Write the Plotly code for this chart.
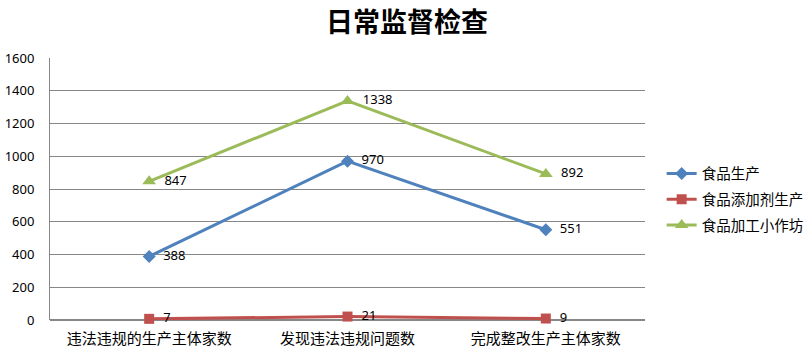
import plotly.graph_objects as go

categories = ["违法违规的生产主体家数", "发现违法违规问题数", "完成整改生产主体家数"]
food_production = [388, 970, 551]
food_additive = [7, 21, 9]
food_workshop = [847, 1338, 892]
y_ticks = [0, 200, 400, 600, 800, 1000, 1200, 1400, 1600]

series = [
    ("食品生产", food_production, "#4F81BD", "diamond", 10),
    ("食品添加剂生产", food_additive, "#C0504D", "square", 10),
    ("食品加工小作坊", food_workshop, "#9BBB59", "triangle-up", 12),
]

fig = go.Figure()
for i, (name, vals, color, sym, size) in enumerate(series):
    fig.add_trace(go.Scatter(
        x=categories, y=vals, name=name, mode="lines+markers+text",
        legendgroup=f"g{i}",
        line=dict(color=color, width=3),
        marker=dict(symbol=sym, size=size, color=color),
        text=["  " + str(v) for v in vals], textposition="middle right",
        textfont=dict(family="Noto Sans, Liberation Sans", size=13, color="#000"),
        cliponaxis=False,
    ))

fig.update_layout(
    width=809, height=357,
    margin=dict(l=50, r=164, t=58, b=37, autoexpand=False),
    paper_bgcolor="white", plot_bgcolor="white",
    title=dict(text="<b>日常监督检查</b>", x=407 / 809, xanchor="center", xref="container",
               y=1 - 23 / 357, yanchor="middle", yref="container", automargin=False,
               font=dict(family="Noto Sans CJK SC", size=27, color="#000")),
    font=dict(family="Noto Sans CJK SC", size=14, color="#000"),
    showlegend=True,
    legend=dict(x=1.028, y=0.46, xanchor="left", yanchor="middle",
                font=dict(family="Noto Sans CJK SC", size=14.5, color="#000"),
                tracegroupgap=4, itemwidth=30),
    xaxis=dict(showgrid=False, showline=False, ticks="", tickfont=dict(size=15),
               range=[-0.5, 2.5], automargin=False, ticklabelstandoff=8),
    yaxis=dict(range=[0, 1600], tickvals=y_ticks, showgrid=True, gridcolor="#878787",
               gridwidth=1, showline=True, linecolor="#878787", zeroline=True,
               zerolinecolor="#878787", ticks="", automargin=False, ticklabelstandoff=12,
               tickfont=dict(family="Noto Sans, Liberation Sans", size=13)),
)

fig.write_html(
    "out.html",
    config={"displayModeBar": False},
    post_script="document.body.style.margin='0';document.body.style.padding='0';",
)
